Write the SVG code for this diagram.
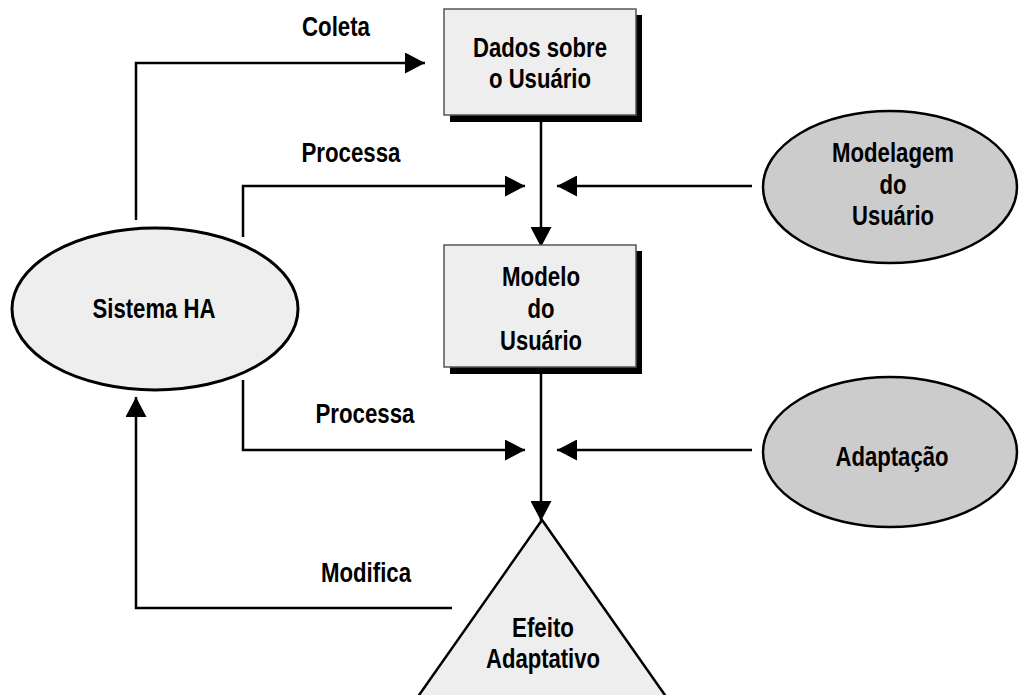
<svg xmlns="http://www.w3.org/2000/svg" width="1019" height="695" viewBox="0 0 1019 695">
<style>
text{font-family:"Liberation Sans",Arial,sans-serif;font-weight:bold;font-size:27px;fill:#000;text-anchor:middle}
.ln{fill:none;stroke:#000;stroke-width:2.5}
.box{fill:#eeeeee;stroke:#555;stroke-width:1.5}
.sh{fill:#000}
.el{fill:#eeeeee;stroke:#000;stroke-width:3}
.el2{fill:#cccccc;stroke:#000;stroke-width:2.5}
</style>
<defs>
<marker id="ah" markerUnits="userSpaceOnUse" markerWidth="20" markerHeight="21" refX="20" refY="10.5" orient="auto">
<path d="M0,0 L20,10.5 L0,21 z" fill="#000"/>
</marker>
</defs>
<rect width="1019" height="695" fill="#fff"/>
<g id="connectors">
<path class="ln" d="M136,220 V63 H425" marker-end="url(#ah)"/>
<path class="ln" d="M243,237 V186 H525" marker-end="url(#ah)"/>
<path class="ln" d="M752,186 H557" marker-end="url(#ah)"/>
<path class="ln" d="M541,116 V247" marker-end="url(#ah)"/>
<path class="ln" d="M243,380 V450 H525" marker-end="url(#ah)"/>
<path class="ln" d="M752,450 H557" marker-end="url(#ah)"/>
<path class="ln" d="M541,368 V521" marker-end="url(#ah)"/>
<path class="ln" d="M452,608 H136 V397" marker-end="url(#ah)"/>
<text x="336" y="36" textLength="68" lengthAdjust="spacingAndGlyphs">Coleta</text>
<text x="351" y="162" textLength="99" lengthAdjust="spacingAndGlyphs">Processa</text>
<text x="365" y="423" textLength="99" lengthAdjust="spacingAndGlyphs">Processa</text>
<text x="366" y="582" textLength="90" lengthAdjust="spacingAndGlyphs">Modifica</text>
</g>
<g id="dados">
<rect class="sh" x="450" y="15" width="192" height="107"/>
<rect class="box" x="444" y="9" width="192" height="106"/>
<text x="540" y="57" textLength="134" lengthAdjust="spacingAndGlyphs">Dados sobre</text>
<text x="540" y="88" textLength="102" lengthAdjust="spacingAndGlyphs">o Usuário</text>
</g>
<g id="modelo">
<rect class="sh" x="450" y="251" width="192" height="123"/>
<rect class="box" x="444" y="245" width="192" height="122"/>
<text x="541" y="286" textLength="78" lengthAdjust="spacingAndGlyphs">Modelo</text>
<text x="541" y="318" textLength="27" lengthAdjust="spacingAndGlyphs">do</text>
<text x="541" y="350" textLength="82" lengthAdjust="spacingAndGlyphs">Usuário</text>
</g>
<g id="sistema">
<ellipse class="el" cx="155" cy="309" rx="143" ry="81"/>
<text x="154" y="318" textLength="123" lengthAdjust="spacingAndGlyphs">Sistema HA</text>
</g>
<g id="modelagem">
<ellipse class="el2" cx="890" cy="187" rx="127" ry="76"/>
<text x="893" y="162" textLength="122" lengthAdjust="spacingAndGlyphs">Modelagem</text>
<text x="893" y="194" textLength="27" lengthAdjust="spacingAndGlyphs">do</text>
<text x="893" y="225" textLength="82" lengthAdjust="spacingAndGlyphs">Usuário</text>
</g>
<g id="adaptacao">
<ellipse class="el2" cx="890" cy="452" rx="127" ry="75"/>
<text x="892" y="466" textLength="113" lengthAdjust="spacingAndGlyphs">Adaptação</text>
</g>
<g id="efeito">
<polygon points="542,520 417,698 667,698" fill="#eeeeee" stroke="#000" stroke-width="2.5" stroke-linejoin="miter"/>
<text x="543" y="637" textLength="62" lengthAdjust="spacingAndGlyphs">Efeito</text>
<text x="543" y="668" textLength="114" lengthAdjust="spacingAndGlyphs">Adaptativo</text>
</g>
</svg>
